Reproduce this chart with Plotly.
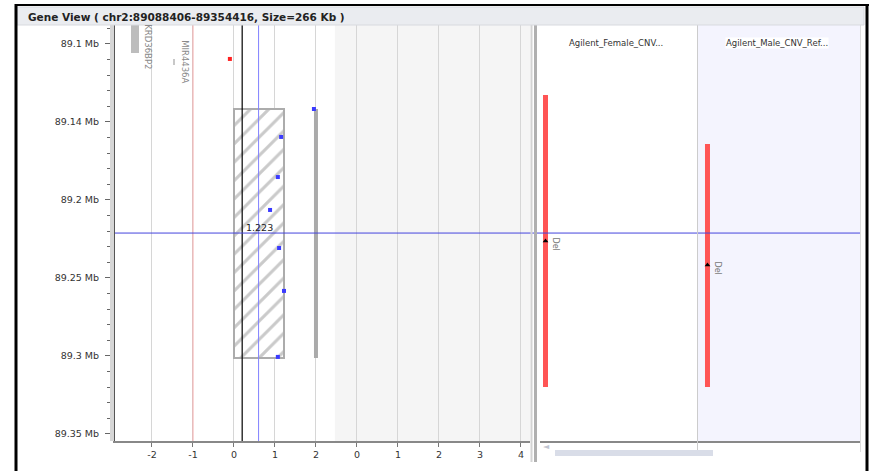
import plotly.graph_objects as go

# ---------------- data ----------------
title_text = "Gene View ( chr2:89088406-89354416, Size=266 Kb )"

y_tick_vals = [89.10, 89.15, 89.20, 89.25, 89.30, 89.35]
y_tick_text = ["89.1 Mb", "89.14 Mb", "89.2 Mb", "89.25 Mb", "89.3 Mb", "89.35 Mb"]
y_range = [89.3545, 89.0872]

x_tick_vals = [-2, -1, 0, 1, 2, 3, 4, 5, 6, 7]
x_tick_text = ["-2", "-1", "0", "1", "2", "0", "1", "2", "3", "4"]
x_range = [-2.902, 7.22]

# gene track
gene_names = ["KRD36BP2", "MIR4436A"]
gene_x = [-2.415, -1.46]
gene_start = [89.0872, 89.1096]
gene_end = [89.1058, 89.1135]
gene_label_x = [-2.1, -1.2]
gene_label_y = [89.1020, 89.1115]

# segment (hatched box)
seg_x0 = 0.0
seg_x1 = 1.223
seg_start = 89.1417
seg_end = 89.3013
seg_label = "1.223"

# probe points
probe_x = [1.95, 1.15, 1.07, 0.88, 1.10, 1.22, 1.07]
probe_y = [89.1417, 89.1596, 89.1853, 89.2064, 89.2308, 89.2583, 89.3006]
outlier_x = [-0.1]
outlier_y = [89.1096]

# track bar at x=2
track_x = 2
track_start = 89.1417
track_end = 89.3013

# reference lines
pink_x = -1
black_x = 0.2
blue_x = 0.6
cursor_y = 89.2212
shade_x0 = 2.46

# CNV tracks
cnv_tracks = ["Agilent_Female_CNV...", "Agilent_Male_CNV_Ref..."]
cnv_start = [89.1327, 89.1641]
cnv_end = [89.3199, 89.3199]
cnv_type = ["Del", "Del"]
cnv_mark = [89.2263, 89.2417]

# ---------------- figure ----------------
W, H = 869, 471
L, R, T, B = 115, 9, 24, 30
PW, PH = W - L - R, H - T - B


def px(x):
    return (x - L) / PW


def py(y):
    return (H - B - y) / PH


font = "DejaVu Sans"
fig = go.Figure()

# genes
for i, name in enumerate(gene_names):
    w = 0.19 if i == 0 else 0.03
    fig.add_trace(go.Bar(x=[gene_x[i]], y=[gene_end[i] - gene_start[i]], base=[gene_start[i]],
                         width=[w], marker=dict(color="#bdbdbd" if i == 0 else "#c8c8c8", line=dict(width=0)),
                         xaxis="x", yaxis="y", showlegend=False, hoverinfo="skip"))

# hatched segment
fig.add_trace(go.Bar(x=[(seg_x0 + seg_x1) / 2], y=[seg_end - seg_start], base=[seg_start],
                     width=[seg_x1 - seg_x0],
                     marker=dict(color="white", line=dict(color="#acacac", width=2),
                                 pattern=dict(shape="/", fgcolor="#959595", bgcolor="white",
                                              size=13, solidity=0.24)),
                     xaxis="x", yaxis="y", showlegend=False, hoverinfo="skip"))

# track bar
fig.add_trace(go.Scatter(x=[track_x, track_x], y=[track_start, track_end], mode="lines",
                         line=dict(color="#aaaaaa", width=4), xaxis="x", yaxis="y",
                         showlegend=False, hoverinfo="skip"))

# probes
fig.add_trace(go.Scatter(x=probe_x, y=probe_y, mode="markers",
                         marker=dict(symbol="square", size=4, color="#3a3aff"),
                         xaxis="x", yaxis="y", showlegend=False, hoverinfo="skip"))
fig.add_trace(go.Scatter(x=outlier_x, y=outlier_y, mode="markers",
                         marker=dict(symbol="square", size=4, color="#ff2020"),
                         xaxis="x", yaxis="y", showlegend=False, hoverinfo="skip"))

# CNV bars
cnv_xpos = [0.035, 0.0586]
for i in range(2):
    xa = "x2" if i == 0 else "x3"
    fig.add_trace(go.Scatter(x=[cnv_xpos[i], cnv_xpos[i]], y=[cnv_start[i], cnv_end[i]], mode="lines",
                             line=dict(color="#ff5555", width=5), xaxis=xa, yaxis="y",
                             showlegend=False, hoverinfo="skip"))
    fig.add_trace(go.Scatter(x=[cnv_xpos[i]], y=[cnv_mark[i]], mode="markers",
                             marker=dict(symbol="triangle-up", size=5, color="black"),
                             xaxis=xa, yaxis="y", showlegend=False, hoverinfo="skip"))

shapes = []
# shaded region in main panel
shapes.append(dict(type="rect", xref="x", yref="y", x0=shade_x0, x1=x_range[1], y0=y_range[1], y1=y_range[0],
                   fillcolor="#f5f5f5", line=dict(width=0), layer="below"))
# male panel background
shapes.append(dict(type="rect", xref="paper", yref="paper", x0=px(698), x1=1, y0=0, y1=1,
                   fillcolor="#f4f4fe", line=dict(width=0), layer="below"))
# reference lines
shapes.append(dict(type="line", xref="x", yref="y", x0=pink_x, x1=pink_x, y0=y_range[1], y1=y_range[0],
                   line=dict(color="#f2a6a6", width=1), layer="above"))
shapes.append(dict(type="line", xref="x", yref="y", x0=black_x, x1=black_x, y0=y_range[1], y1=y_range[0],
                   line=dict(color="black", width=1.2), layer="above"))
shapes.append(dict(type="line", xref="x", yref="y", x0=blue_x, x1=blue_x, y0=y_range[1], y1=y_range[0],
                   line=dict(color="#8080ff", width=1), layer="above"))
shapes.append(dict(type="line", xref="paper", yref="y", x0=0, x1=1, y0=cursor_y, y1=cursor_y,
                   line=dict(color="#4444dd", width=1), layer="above"))
# panel separators
shapes.append(dict(type="line", xref="paper", yref="paper", x0=px(531.5), x1=px(531.5), y0=py(462), y1=1,
                   line=dict(color="#d4d4d4", width=2), layer="above"))
shapes.append(dict(type="line", xref="paper", yref="paper", x0=px(535.5), x1=px(535.5), y0=py(462), y1=1,
                   line=dict(color="#b0b0b0", width=3), layer="above"))
shapes.append(dict(type="line", xref="paper", yref="paper", x0=px(697.5), x1=px(697.5), y0=py(452), y1=1,
                   line=dict(color="#cccccc", width=1), layer="above"))
shapes.append(dict(type="line", xref="paper", yref="paper", x0=px(860.5), x1=px(860.5), y0=py(452), y1=1,
                   line=dict(color="#dddddd", width=1), layer="above"))
# y-axis strip
shapes.append(dict(type="rect", xref="paper", yref="paper", x0=px(110), x1=px(114), y0=py(441), y1=1,
                   fillcolor="#d6d6d6", line=dict(width=0), layer="above"))
# title bar
shapes.append(dict(type="rect", xref="paper", yref="paper", x0=px(17), x1=px(864), y0=py(25), y1=py(7),
                   fillcolor="#eaecf0", line=dict(color="#d8dadf", width=1), layer="above"))
# frame
shapes.append(dict(type="line", xref="paper", yref="paper", x0=px(16), x1=px(16), y0=py(471), y1=py(4),
                   line=dict(color="black", width=3)))
shapes.append(dict(type="line", xref="paper", yref="paper", x0=px(15), x1=px(869), y0=py(5), y1=py(5),
                   line=dict(color="black", width=2)))
shapes.append(dict(type="line", xref="paper", yref="paper", x0=px(867), x1=px(867), y0=py(471), y1=py(4),
                   line=dict(color="black", width=3)))
# scrollbar
shapes.append(dict(type="rect", xref="paper", yref="paper", x0=px(555), x1=px(713), y0=py(456), y1=py(450),
                   fillcolor="#d9dde8", line=dict(width=0)))

annotations = []
annotations.append(dict(text=title_text, xref="paper", yref="paper", x=px(26), y=py(17),
                        xanchor="left", yanchor="middle", showarrow=False,
                        font=dict(family=font, size=10.5, color="#222222", weight="bold")))
for i, name in enumerate(gene_names):
    annotations.append(dict(text=name, xref="x", yref="y", x=gene_label_x[i], y=gene_label_y[i],
                            textangle=90, showarrow=False,
                            font=dict(family=font, size=8.5, color="#8a8a8a")))
annotations.append(dict(text=seg_label, xref="x", yref="y", x=(seg_x0 + seg_x1) / 2, y=cursor_y,
                        yanchor="bottom", yshift=-2, showarrow=False,
                        font=dict(family=font, size=9.5, color="#222222")))
for i, name in enumerate(cnv_tracks):
    annotations.append(dict(text=name, xref="paper", yref="paper",
                            x=px(616) if i == 0 else px(777), y=py(43),
                            xanchor="center", yanchor="middle", showarrow=False,
                            bgcolor="white" if i == 1 else "rgba(0,0,0,0)", borderpad=0,
                            font=dict(family=font, size=8.5, color="#333333")))
    xa = "x2" if i == 0 else "x3"
    annotations.append(dict(text=cnv_type[i], xref=xa, yref="y", x=cnv_xpos[i], y=cnv_mark[i],
                            xshift=10, yshift=-3, textangle=90, showarrow=False,
                            font=dict(family=font, size=8, color="#777777")))
annotations.append(dict(text="◄", xref="paper", yref="paper", x=px(546), y=py(453),
                        xanchor="center", showarrow=False,
                        font=dict(family=font, size=8, color="#c0c4d0")))

fig.update_layout(
    width=W, height=H,
    margin=dict(l=L, r=R, t=T, b=B),
    paper_bgcolor="white", plot_bgcolor="white",
    barmode="overlay", bargap=0,
    showlegend=False,
    shapes=shapes, annotations=annotations,
    xaxis=dict(domain=[0, px(530)], range=x_range, tickmode="array", tickvals=x_tick_vals,
               ticktext=x_tick_text, showgrid=True, gridcolor="#d6d6d6", gridwidth=1,
               zeroline=False, showline=True, linecolor="#888888", linewidth=1.5,
               ticks="outside", ticklen=4, tickcolor="#777777",
               tickfont=dict(family=font, size=9.5, color="#333333"), anchor="y", fixedrange=True),
    xaxis2=dict(domain=[px(540), px(697)], range=[0, 1], showgrid=False, zeroline=False,
                showticklabels=False, showline=True, linecolor="#888888", linewidth=1.5,
                anchor="y", fixedrange=True),
    xaxis3=dict(domain=[px(698), 1], range=[0, 1], showgrid=False, zeroline=False,
                showticklabels=False, showline=True, linecolor="#888888", linewidth=1.5,
                anchor="y", fixedrange=True),
    yaxis=dict(range=y_range, tickmode="array", tickvals=y_tick_vals, ticktext=y_tick_text,
               showgrid=False, zeroline=False, showline=True, linecolor="#555555", linewidth=2,
               ticks="outside", ticklen=8, tickcolor="#666666", ticklabelstandoff=4,
               minor=dict(ticks="outside", ticklen=6, dtick=0.01, tick0=89.1, tickcolor="#666666",
                          showgrid=False),
               tickfont=dict(family=font, size=9.5, color="#333333"), anchor="x", fixedrange=True),
)

fig.write_html("out.html", config={"displayModeBar": False},
               post_script="document.body.style.margin='0px';")
